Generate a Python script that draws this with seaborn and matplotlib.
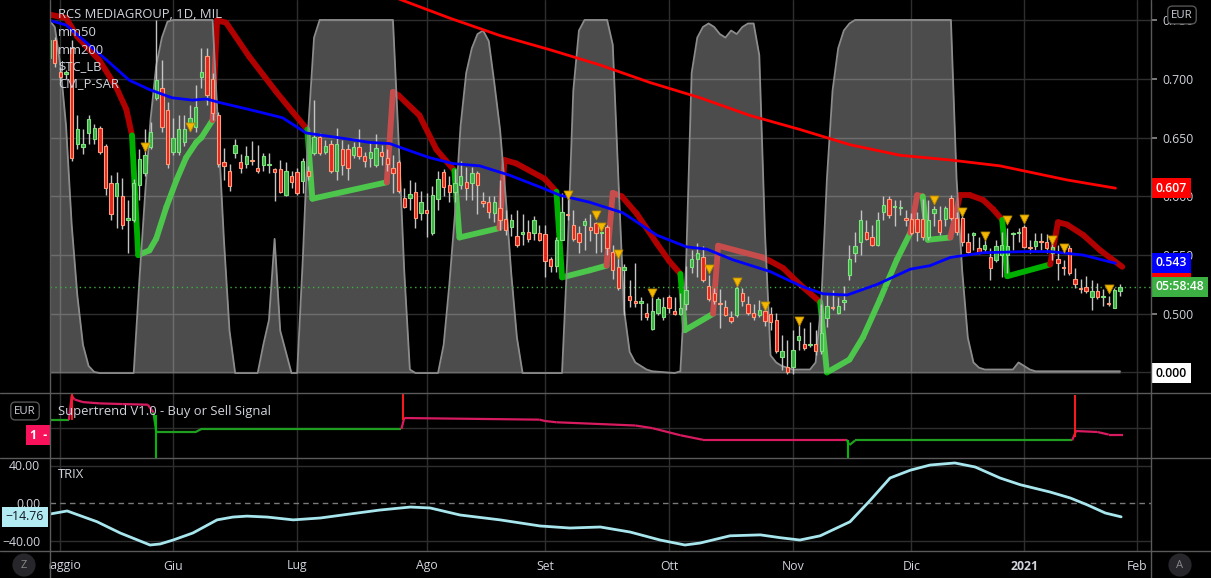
import numpy as np
import pandas as pd
import matplotlib
matplotlib.use('Agg')
import matplotlib.pyplot as plt
import seaborn as sns
from matplotlib.collections import LineCollection
from matplotlib.lines import Line2D
from matplotlib.transforms import blended_transform_factory, Bbox, TransformedBbox, IdentityTransform

# --- candles (RCS MEDIAGROUP daily) ---
opens = [0.718, 0.733, 0.706, 0.704, 0.726, 0.645, 0.642, 0.654, 0.649, 0.658,
         0.643, 0.611, 0.600, 0.600, 0.580, 0.580, 0.610, 0.620, 0.642, 0.684,
         0.692, 0.674, 0.638, 0.638, 0.646, 0.659, 0.659, 0.702, 0.720, 0.700,
         0.669, 0.629, 0.622, 0.637, 0.629, 0.628, 0.631, 0.624, 0.627, 0.627,
         0.623, 0.623, 0.601, 0.617, 0.621, 0.613, 0.622, 0.637, 0.651, 0.638,
         0.645, 0.622, 0.640, 0.640, 0.635, 0.642, 0.634, 0.633, 0.627, 0.638,
         0.633, 0.624, 0.629, 0.599, 0.599, 0.604, 0.586, 0.588, 0.569, 0.598,
         0.621, 0.610, 0.604, 0.610, 0.612, 0.611, 0.620, 0.596, 0.595, 0.586,
         0.590, 0.581, 0.574, 0.566, 0.568, 0.570, 0.569, 0.569, 0.568, 0.547,
         0.541, 0.563, 0.585, 0.576, 0.569, 0.576, 0.574, 0.577, 0.569, 0.574,
         0.553, 0.540, 0.537, 0.515, 0.511, 0.509, 0.501, 0.487, 0.501, 0.497,
         0.514, 0.502, 0.500, 0.508, 0.540, 0.547, 0.548, 0.524, 0.518, 0.509,
         0.506, 0.497, 0.499, 0.518, 0.508, 0.501, 0.499, 0.502, 0.500, 0.495,
         0.463, 0.455, 0.455, 0.478, 0.474, 0.473, 0.474, 0.468, 0.496, 0.506,
         0.501, 0.510, 0.533, 0.552, 0.561, 0.570, 0.565, 0.559, 0.587, 0.598,
         0.591, 0.590, 0.582, 0.581, 0.581, 0.581, 0.565, 0.586, 0.580, 0.581,
         0.599, 0.582, 0.582, 0.561, 0.567, 0.556, 0.555, 0.548, 0.546, 0.550,
         0.550, 0.568, 0.569, 0.574, 0.557, 0.558, 0.562, 0.561, 0.552, 0.547,
         0.540, 0.556, 0.530, 0.522, 0.523, 0.514, 0.519, 0.514, 0.509, 0.505, 0.519]
closes = [0.733, 0.714, 0.702, 0.706, 0.633, 0.657, 0.645, 0.666, 0.658, 0.638,
          0.607, 0.585, 0.611, 0.576, 0.582, 0.611, 0.632, 0.635, 0.655, 0.699,
          0.659, 0.628, 0.650, 0.657, 0.657, 0.667, 0.676, 0.706, 0.686, 0.671,
          0.628, 0.626, 0.609, 0.644, 0.624, 0.634, 0.630, 0.622, 0.634, 0.628,
          0.621, 0.604, 0.622, 0.612, 0.603, 0.630, 0.617, 0.651, 0.637, 0.643,
          0.622, 0.645, 0.627, 0.624, 0.642, 0.634, 0.630, 0.638, 0.641, 0.634,
          0.628, 0.620, 0.605, 0.591, 0.602, 0.582, 0.595, 0.586, 0.601, 0.615,
          0.608, 0.604, 0.611, 0.617, 0.607, 0.620, 0.610, 0.594, 0.587, 0.595,
          0.580, 0.571, 0.580, 0.559, 0.570, 0.564, 0.580, 0.563, 0.545, 0.541,
          0.563, 0.587, 0.584, 0.564, 0.561, 0.579, 0.571, 0.569, 0.570, 0.556,
          0.537, 0.522, 0.540, 0.512, 0.509, 0.511, 0.497, 0.502, 0.513, 0.506,
          0.505, 0.500, 0.505, 0.520, 0.547, 0.552, 0.529, 0.513, 0.511, 0.508,
          0.499, 0.494, 0.522, 0.511, 0.501, 0.497, 0.503, 0.494, 0.493, 0.468,
          0.468, 0.450, 0.469, 0.481, 0.471, 0.474, 0.468, 0.484, 0.507, 0.505,
          0.507, 0.512, 0.547, 0.558, 0.580, 0.564, 0.559, 0.580, 0.593, 0.584,
          0.592, 0.591, 0.580, 0.569, 0.570, 0.565, 0.580, 0.589, 0.570, 0.590,
          0.582, 0.570, 0.561, 0.553, 0.569, 0.552, 0.559, 0.539, 0.558, 0.559,
          0.558, 0.569, 0.570, 0.557, 0.556, 0.562, 0.561, 0.556, 0.557, 0.543,
          0.539, 0.535, 0.525, 0.521, 0.519, 0.519, 0.514, 0.515, 0.508, 0.520, 0.523]
highs = [0.738, 0.736, 0.710, 0.708, 0.733, 0.669, 0.657, 0.669, 0.662, 0.660,
         0.645, 0.618, 0.621, 0.616, 0.597, 0.615, 0.640, 0.657, 0.663, 0.750,
         0.716, 0.680, 0.667, 0.669, 0.669, 0.678, 0.695, 0.726, 0.726, 0.705,
         0.672, 0.641, 0.628, 0.649, 0.636, 0.643, 0.647, 0.644, 0.637, 0.637,
         0.624, 0.631, 0.629, 0.622, 0.624, 0.633, 0.626, 0.682, 0.654, 0.648,
         0.648, 0.658, 0.648, 0.645, 0.646, 0.657, 0.638, 0.646, 0.653, 0.644,
         0.640, 0.635, 0.631, 0.607, 0.614, 0.612, 0.605, 0.603, 0.609, 0.622,
         0.623, 0.617, 0.623, 0.630, 0.625, 0.625, 0.622, 0.604, 0.600, 0.600,
         0.614, 0.588, 0.585, 0.588, 0.585, 0.580, 0.583, 0.576, 0.576, 0.548,
         0.565, 0.603, 0.600, 0.588, 0.575, 0.582, 0.585, 0.578, 0.570, 0.576,
         0.559, 0.548, 0.542, 0.529, 0.543, 0.514, 0.509, 0.514, 0.514, 0.514,
         0.516, 0.514, 0.518, 0.541, 0.554, 0.560, 0.558, 0.533, 0.522, 0.521,
         0.512, 0.502, 0.524, 0.522, 0.515, 0.508, 0.512, 0.508, 0.506, 0.501,
         0.482, 0.478, 0.486, 0.495, 0.488, 0.493, 0.486, 0.508, 0.516, 0.520,
         0.514, 0.524, 0.559, 0.570, 0.588, 0.580, 0.576, 0.587, 0.600, 0.600,
         0.597, 0.597, 0.588, 0.586, 0.587, 0.598, 0.597, 0.592, 0.592, 0.592,
         0.601, 0.587, 0.588, 0.569, 0.570, 0.565, 0.563, 0.556, 0.563, 0.570,
         0.573, 0.570, 0.573, 0.576, 0.563, 0.569, 0.569, 0.568, 0.563, 0.559,
         0.546, 0.559, 0.539, 0.530, 0.532, 0.529, 0.526, 0.521, 0.515, 0.522, 0.525]
lows = [0.715, 0.710, 0.698, 0.700, 0.630, 0.640, 0.636, 0.645, 0.645, 0.636,
        0.601, 0.580, 0.573, 0.572, 0.552, 0.578, 0.597, 0.617, 0.640, 0.682,
        0.655, 0.624, 0.635, 0.635, 0.643, 0.656, 0.655, 0.692, 0.678, 0.665,
        0.625, 0.614, 0.605, 0.633, 0.620, 0.624, 0.627, 0.620, 0.622, 0.620,
        0.596, 0.603, 0.600, 0.607, 0.601, 0.603, 0.614, 0.635, 0.635, 0.636,
        0.620, 0.614, 0.618, 0.614, 0.633, 0.632, 0.625, 0.625, 0.625, 0.627,
        0.622, 0.603, 0.603, 0.590, 0.588, 0.573, 0.580, 0.565, 0.567, 0.588,
        0.600, 0.595, 0.595, 0.606, 0.597, 0.597, 0.585, 0.591, 0.582, 0.578,
        0.571, 0.567, 0.566, 0.557, 0.559, 0.561, 0.563, 0.562, 0.531, 0.536,
        0.536, 0.563, 0.580, 0.562, 0.552, 0.554, 0.562, 0.552, 0.553, 0.550,
        0.530, 0.520, 0.499, 0.506, 0.506, 0.495, 0.495, 0.486, 0.499, 0.495,
        0.501, 0.499, 0.499, 0.503, 0.535, 0.531, 0.527, 0.511, 0.508, 0.488,
        0.498, 0.492, 0.497, 0.507, 0.499, 0.495, 0.497, 0.490, 0.486, 0.467,
        0.452, 0.449, 0.449, 0.469, 0.469, 0.472, 0.465, 0.466, 0.489, 0.503,
        0.500, 0.503, 0.529, 0.544, 0.550, 0.563, 0.558, 0.558, 0.580, 0.582,
        0.575, 0.584, 0.575, 0.567, 0.562, 0.563, 0.563, 0.575, 0.567, 0.575,
        0.580, 0.567, 0.558, 0.552, 0.554, 0.551, 0.553, 0.529, 0.544, 0.531,
        0.535, 0.554, 0.561, 0.556, 0.552, 0.554, 0.554, 0.552, 0.546, 0.529,
        0.533, 0.533, 0.522, 0.518, 0.518, 0.503, 0.513, 0.507, 0.507, 0.505, 0.515]

holidays = ['2020-05-01', '2020-12-24', '2020-12-25', '2020-12-31', '2021-01-01']
month_labels = ['maggio', 'Giu', 'Lug', 'Ago', 'Set', 'Ott', 'Nov', 'Dic', '2021', 'Feb']

# moving averages (bar index, price)
mm50_bar = [0, 3, 6.6, 10.7, 14.2, 17.8, 21.8, 25.4, 27.9, 30.2, 35.5, 41.4, 45.6, 48.5, 52.8,
            56.8, 60.4, 63.9, 67.5, 71.6, 76.4, 81.7, 87.6, 90.6, 95.9, 101.8, 107.8, 113.1,
            116.7, 121.3, 127.9, 133.7, 137.3, 141.6, 146.9, 152.8, 156.3, 159.9, 165.7,
            173.5, 177.6, 183.5, 189.2]
mm50_val = [0.750, 0.746, 0.731, 0.714, 0.699, 0.691, 0.684, 0.682, 0.683, 0.680, 0.674, 0.667,
            0.654, 0.652, 0.649, 0.646, 0.645, 0.639, 0.633, 0.628, 0.626, 0.618, 0.607, 0.601,
            0.595, 0.586, 0.567, 0.557, 0.555, 0.546, 0.536, 0.523, 0.517, 0.516, 0.525, 0.538,
            0.541, 0.548, 0.552, 0.553, 0.553, 0.550, 0.543]
mm200_bar = [60.5, 71, 80, 88.8, 97.7, 106.6, 115.5, 124.3, 133.2, 142.1, 151, 159.9, 168.7,
             180.6, 189.2]
mm200_val = [0.771, 0.752, 0.737, 0.725, 0.712, 0.697, 0.684, 0.669, 0.657, 0.644, 0.635,
             0.631, 0.626, 0.614, 0.607]

# STC oscillator (bar index, 0..100)
stc_bar = [0, 1, 2, 3, 4, 5, 6, 7, 8, 9, 15, 16, 17, 18, 19, 20, 21, 22, 29, 30, 31, 32, 33,
           37, 38, 39, 40, 41, 42, 43, 44, 45, 46, 47, 48, 61, 62, 63, 64, 65, 69, 70, 71, 72,
           73, 74, 75, 76, 77, 78, 79, 80, 81, 82, 83, 84, 91, 92, 93, 94, 95, 99, 100, 101,
           102, 103, 104, 105, 106, 107, 111, 112, 113, 114, 115, 116, 117, 118, 119, 120, 121,
           122, 123, 124, 125, 126, 127, 128, 129, 130, 131, 132, 135, 136, 137, 138, 139, 140,
           141, 142, 143, 160, 161, 162, 163, 164, 165, 166, 171, 172, 173, 174, 175, 190]
stc_val = [100, 98, 87, 70, 42, 22, 8, 2, 0.3, 0, 0, 26, 50, 72, 87, 95, 99.5, 100, 100, 69,
           38, 12, 0, 0, 8, 15, 38, 12, 6, 0, 0, 32, 70, 95, 100, 100, 66, 29, 1, 0, 0, 8, 25,
           45, 70, 85, 92, 96, 97, 94, 82, 69, 50, 28, 10, 0, 0, 35, 80, 97, 100, 100, 93, 55,
           18, 6, 3, 2, 1, 0.5, 0, 0.5, 30, 85, 95, 98, 99, 98, 96, 95, 97, 96, 98, 99, 99, 90,
           40, 5, 3, 2, 1.5, 1, 1, 3, 20, 55, 80, 92, 97, 99, 100, 100, 55, 29, 10, 3, 1.5, 1,
           1, 3, 2, 1, 0.5, 0.5]
stc_price_0 = 0.4495
stc_price_100 = 0.7503

# parabolic SAR (bar, price, 1 = below price / green)
psar_bar = [0, 3, 5, 8.9, 11.9, 13.7, 14.7, 15.8, 17.8, 19, 20.8, 22.6, 24.3, 26.1, 27, 29,
            29.8, 31.4, 35.5, 40.3, 43.2, 45.8, 46.7, 59.9, 61, 62, 65.7, 68.7, 71.9, 72.8,
            79.9, 80.8, 82.9, 87.9, 90, 91, 95.9, 98.9, 100, 101.6, 104.3, 107.8, 110, 112,
            112.8, 117.8, 118.7, 126.6, 127.9, 130.2, 133.2, 136.8, 138, 142, 144.4, 147.4,
            150.4, 152.8, 154, 155, 155.9, 159.9, 161.6, 163.4, 165.7, 167.5, 169.1, 170, 177.6,
            179, 180.6, 183.5, 186.5, 190.4]
psar_val = [0.755, 0.752, 0.736, 0.716, 0.693, 0.674, 0.652, 0.550, 0.554, 0.564, 0.591, 0.614,
            0.633, 0.646, 0.650, 0.665, 0.750, 0.748, 0.719, 0.689, 0.672, 0.657, 0.598, 0.612,
            0.689, 0.686, 0.669, 0.640, 0.622, 0.565, 0.573, 0.631, 0.628, 0.615, 0.604, 0.531,
            0.537, 0.541, 0.603, 0.600, 0.585, 0.560, 0.545, 0.534, 0.486, 0.500, 0.558, 0.548,
            0.545, 0.539, 0.525, 0.510, 0.450, 0.461, 0.480, 0.512, 0.546, 0.569, 0.601, 0.600,
            0.563, 0.565, 0.601, 0.601, 0.597, 0.589, 0.580, 0.532, 0.542, 0.578, 0.576, 0.567,
            0.554, 0.540]
psar_up = [0, 0, 0, 0, 0, 0, 0, 1, 1, 1, 1, 1, 1, 1, 1, 1, 0, 0, 0, 0, 0, 0, 1, 1, 0, 0, 0, 0,
           0, 1, 1, 0, 0, 0, 0, 1, 1, 1, 0, 0, 0, 0, 0, 0, 1, 1, 0, 0, 0, 0, 0, 0, 1, 1, 1, 1,
           1, 1, 0, 0, 1, 1, 0, 0, 0, 0, 0, 1, 1, 0, 0, 0, 0, 0]

# sell markers
tri_bar = [17, 25, 92, 97, 98, 101, 107, 117, 122, 127, 133, 157, 162, 166, 170, 173, 178, 180, 188]
tri_val = [0.642, 0.659, 0.601, 0.584, 0.574, 0.551, 0.518, 0.538, 0.527, 0.507, 0.494, 0.597,
           0.587, 0.566, 0.580, 0.581, 0.563, 0.556, 0.521]

# Supertrend pane (bar, level 0..100, 1 = green)
st_bar = [0, 3.5, 4, 4.5, 6, 9, 13, 17.5, 18.5, 19, 26, 27, 62.5, 63, 87, 88, 90, 104, 107, 112,
          116, 141.5, 142, 143, 181.5, 182.2, 186, 188, 190.5]
st_val = [58.5, 58.5, 96, 90, 86, 84, 83, 82, 70, 40, 40, 44.6, 44.6, 61.5, 59, 56.9, 55, 50,
          46, 35, 28, 28, 20, 27, 27, 41.5, 40, 36, 36]
st_up = [1, 1, 0, 0, 0, 0, 0, 0, 0, 1, 1, 1, 1, 0, 0, 0, 0, 0, 0, 0, 0, 0, 1, 1, 1, 0, 0, 0, 0]
spike_bar = [4.1, 19.0, 62.8, 141.8, 182.0]
spike_lo = [58.5, 0, 58.5, 0, 33]
spike_hi = [100, 66, 100, 28, 97]
spike_up = [0, 1, 0, 1, 0]

# TRIX pane
trix_bar = [0.2, 3.2, 8.5, 12.6, 17.9, 19.7, 22, 25.5, 29.8, 32.6, 35.1, 38.7, 43.3, 48.1, 53.4,
            58.7, 64.1, 67.6, 72.9, 80, 87.1, 92.4, 97.8, 103.1, 108.4, 112.8, 115.5, 120.8,
            126.2, 129.7, 133.2, 136.8, 142.1, 145.7, 149.2, 152.8, 156.3, 160.7, 164.3, 168.7,
            172.3, 177.6, 181.2, 184.2, 187.4, 190.2]
trix_val = [-11.7, -8.5, -20, -32, -44.8, -43.7, -39.5, -32, -18, -15, -14, -15, -18, -16, -11.7,
            -7.5, -4.3, -5.3, -12.8, -18, -24.5, -26.7, -25.6, -31, -39.5, -44.8, -42.7, -35,
            -34, -37, -39.5, -35, -20, 3, 26.7, 35, 40.5, 42.7, 38.4, 26.7, 19.5, 11.7, 5.3,
            -2, -10.7, -14.76]

W, H = 1211, 578
TXT = '#d1d4dc'
GRID = '#2e2e2e'

sns.set_theme(style='dark', rc={'axes.facecolor': 'black', 'figure.facecolor': 'black',
                                'grid.color': GRID, 'axes.edgecolor': 'black'})
plt.rcParams['font.family'] = ['Open Sans', 'DejaVu Sans']

days = pd.bdate_range('2020-04-29', '2021-02-01')
days = days[~days.isin(pd.to_datetime(holidays))]
month_pos = [i for i in range(1, len(days)) if days[i].month != days[i - 1].month]

fig = plt.figure(figsize=(W / 100, H / 100), dpi=100, facecolor='black')


def pane(top, bottom):
    return [50 / W, 1 - bottom / H, 1101 / W, (bottom - top) / H]


ax = fig.add_axes(pane(0, 393))
ax_st = fig.add_axes(pane(393, 458), sharex=ax)
ax_tr = fig.add_axes(pane(458, 551), sharex=ax)
for a in (ax, ax_st, ax_tr):
    a.set_facecolor('black')
    for s in a.spines.values():
        s.set_visible(False)
    a.set_axisbelow(True)
    a.set_xticks(month_pos)
    a.grid(True, axis='x', color=GRID, lw=1)
    a.tick_params(axis='x', labelbottom=False, length=0)
ax.set_xlim(0.15, 195.5)

# ---- main pane ----
o, c, h, l = map(np.array, (opens, closes, highs, lows))
idx = np.arange(len(o))
up = c >= o
lo = np.minimum(o, c)
hb = np.maximum(np.abs(c - o), 0.0009)

# psar under the STC veil
pts = np.column_stack([psar_bar, psar_val])
segs = [pts[k - 1:k + 1] for k in range(1, len(pts))]
cols = ['#00b000' if psar_up[k] else '#b00000' for k in range(1, len(pts))]
ax.add_collection(LineCollection(segs, colors=cols, linewidths=4.2, capstyle='round', zorder=1))

stc_p = stc_price_0 + np.array(stc_val) / 100 * (stc_price_100 - stc_price_0)
ax.fill_between(stc_bar, stc_price_0, stc_p, color='white', alpha=0.3, lw=0, zorder=2)
ax.plot(stc_bar, stc_p, color='#8c8c8c', lw=1.3, zorder=2.5)

ax.axhline(closes[-1], color='#3cb043', ls=(0, (1, 2.5)), lw=1, zorder=2.6)

ax.vlines(idx, l, h, color='#c4c4c4', lw=1, zorder=3)
ax.bar(idx[up], hb[up], bottom=lo[up], width=0.6, color='#3fae49', edgecolor='#7fe27f', lw=0.8, zorder=4)
ax.bar(idx[~up], hb[~up], bottom=lo[~up], width=0.6, color='#e3261f', edgecolor='#ff9c7a', lw=0.8, zorder=4)

sns.lineplot(x=mm50_bar, y=mm50_val, ax=ax, color='#0000ff', lw=2, zorder=5, legend=False)
sns.lineplot(x=mm200_bar, y=mm200_val, ax=ax, color='#ff0000', lw=2, zorder=5, legend=False)
ax.scatter(tri_bar, tri_val, marker='v', s=42, color='#f5b800', edgecolor='#b88600', lw=0.6, zorder=6)

ax.set_ylim(0.4325, 0.7673)
ax.set_yticks([0.45, 0.5, 0.55, 0.6, 0.65, 0.7, 0.75])
ax.set_yticklabels(['', '0.500', '0.550', '0.600', '0.650', '0.700', '0.750'])
ax.yaxis.tick_right()
ax.tick_params(axis='y', colors='#8a8a8a', labelcolor=TXT, labelsize=8.8, length=4, pad=4)
ax.grid(True, axis='y', color=GRID, lw=1)
ax.set_xlabel('')
ax.set_ylabel('')

# ---- supertrend pane ----
pts = np.column_stack([st_bar, st_val])
segs = [pts[k - 1:k + 1] for k in range(1, len(pts))]
cols = ['#1f9e1f' if st_up[k] else '#d81b60' for k in range(1, len(pts))]
ax_st.add_collection(LineCollection(segs, colors=cols, linewidths=1.6, zorder=3))
for b, y0, y1, u in zip(spike_bar, spike_lo, spike_hi, spike_up):
    ax_st.vlines(b, y0, y1, color='#00c000' if u else '#ff1a1a', lw=1.4, zorder=4)
ax_st.set_ylim(0, 100)
ax_st.set_yticks([46.2])
ax_st.grid(True, axis='y', color=GRID, lw=1)
ax_st.tick_params(axis='y', left=False, right=False, labelleft=False)

# ---- TRIX pane ----
sns.lineplot(x=trix_bar, y=trix_val, ax=ax_tr, color='#a8e6ee', lw=2, zorder=4, legend=False)
ax_tr.set_ylim(-51.2, 48)
ax_tr.set_yticks([-40, 0, 40])
ax_tr.set_yticklabels(['\u221240.00', '0.00', '40.00'])
ax_tr.tick_params(axis='y', colors='#8a8a8a', labelcolor=TXT, labelsize=8.8, length=4, pad=3)
ax_tr.axhline(40, color=GRID, lw=1, zorder=1)
ax_tr.axhline(-40, color=GRID, lw=1, zorder=1)
ax_tr.axhline(0, color='#7a7a7a', lw=1, ls=(0, (4, 3)), zorder=1)
ax_tr.tick_params(axis='x', length=4, color='#6a6a6a', direction='out')
ax_tr.set_xlabel('')
ax_tr.set_ylabel('')

# separators
for yp in (393, 458, 551):
    fig.add_artist(Line2D([0, 1], [1 - yp / H] * 2, transform=fig.transFigure, color='#5a5a5a', lw=1))
for xp in (50, 1151):
    fig.add_artist(Line2D([xp / W] * 2, [0, 1], transform=fig.transFigure, color='#5a5a5a', lw=1))

# legends / titles
for yp, s in [(15, 'RCS MEDIAGROUP, 1D, MIL'), (33, 'mm50'), (50, 'mm200'),
              (67, r'\$TC_LB'), (84, 'CM_P-SAR'), (411, 'Supertrend V1.0 - Buy or Sell Signal'),
              (475, 'TRIX')]:
    fig.text(58 / W, 1 - yp / H, s, color=TXT, fontsize=9.4, va='center', ha='left', zorder=30)


def tag(axis, y, s, bg, fg, x=1156):
    tf = blended_transform_factory(fig.transFigure, axis.transData)
    axis.text(x / W, y, s, transform=tf, ha='left', va='center', color=fg, fontsize=8.8,
              fontweight='semibold', clip_on=False, zorder=40,
              bbox=dict(boxstyle='square,pad=0.3', fc=bg, ec='none'))


tag(ax, 0.607, '0.607', '#ff0000', 'white')
tag(ax, 0.5395, '0.540', '#ff0000', 'white')
tag(ax, 0.5435, '0.543', '#0000ff', 'white')
tag(ax, closes[-1], '05:58:48', '#3cb043', 'white')
tag(ax, stc_price_0, '0.000', 'white', 'black')

tf = blended_transform_factory(fig.transFigure, ax_tr.transData)
ax_tr.text(44 / W, trix_val[-1], '\u221214.76', transform=tf, ha='right', va='center', color='#131722',
           fontsize=8.8, clip_on=False, zorder=40, bbox=dict(boxstyle='square,pad=0.3', fc='#b2ebf2', ec='none'))
tf = blended_transform_factory(fig.transFigure, ax_st.transData)
ax_st.text(47 / W, 35, '1  -', transform=tf, ha='right', va='center', color='white', fontsize=8.8,
           fontweight='bold', clip_on=False, zorder=40,
           bbox=dict(boxstyle='square,pad=0.3', fc='#f7125b', ec='none'))

for xp, yp in [(1182, 15), (25, 411)]:
    fig.text(xp / W, 1 - yp / H, 'EUR', color=TXT, fontsize=8.2, ha='center', va='center', zorder=45,
             bbox=dict(boxstyle='round,pad=0.3,rounding_size=0.4', fc='black', ec='#555555', lw=1))

# time axis
tx = blended_transform_factory(ax_tr.transData, fig.transFigure)
clip = TransformedBbox(Bbox.from_extents(49, 0, W, H), IdentityTransform())
for p, s in zip(month_pos, month_labels):
    t = fig.text(p, 1 - 566 / H, s, transform=tx, color=TXT, fontsize=8.8, ha='center', va='center',
                 fontweight='bold' if s == '2021' else 'normal')
    t.set_clip_box(clip)
    t.set_clip_on(True)

for xp, s in [(24, 'Z'), (1180, 'A')]:
    fig.text(xp / W, 1 - 565 / H, s, color='#8a8a8a', fontsize=8, ha='center', va='center',
             bbox=dict(boxstyle='circle,pad=0.55', fc='#26262b', ec='none'))

fig.savefig('out.png', dpi=100, facecolor='black')
